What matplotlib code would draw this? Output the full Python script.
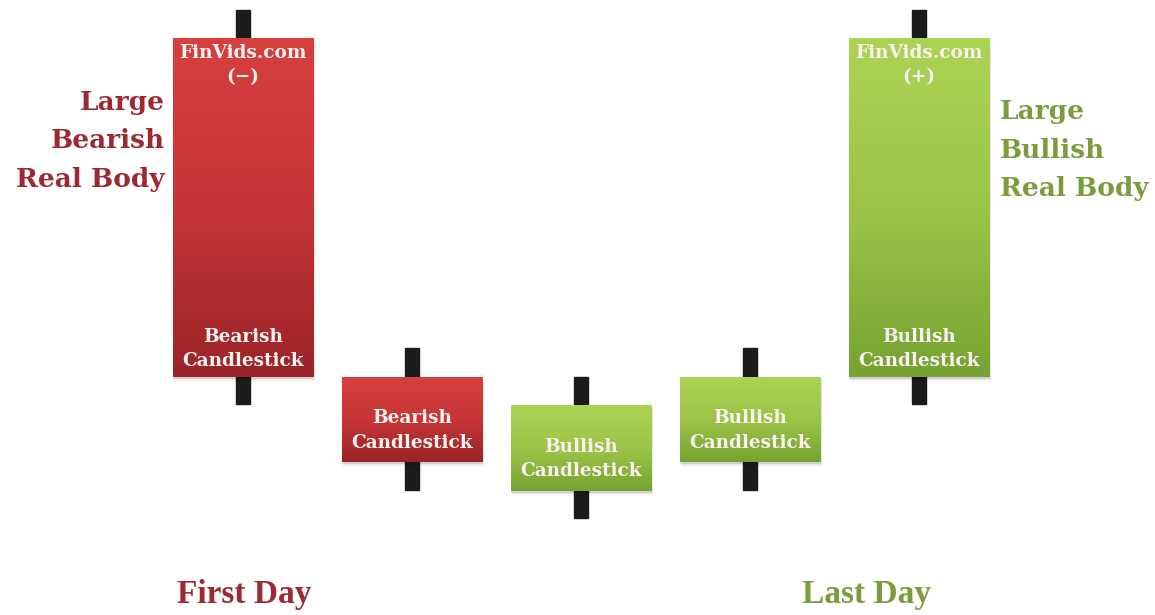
import numpy as np
import matplotlib
matplotlib.use("Agg")
import matplotlib.pyplot as plt
from matplotlib.patches import Rectangle
from matplotlib.colors import LinearSegmentedColormap

# ---- data ----
days = [1, 2, 3, 4, 5]
opens = [577, 238, 124, 153, 238]
closes = [238, 153, 210, 238, 577]
highs = [605, 267, 238, 267, 605]
lows = [211, 125, 97, 125, 211]
body_labels = ["Bearish\nCandlestick", "Bearish\nCandlestick", "Bullish\nCandlestick",
               "Bullish\nCandlestick", "Bullish\nCandlestick"]
top_labels = {1: "FinVids.com\n(\u2212)", 5: "FinVids.com\n(+)"}
side_left = "Large\nBearish\nReal Body"
side_right = "Large\nBullish\nReal Body"
bottom_labels = ["First Day", "Last Day"]

RED_TXT = "#9c2a33"
GREEN_TXT = "#7b9c3c"
red_cmap = LinearSegmentedColormap.from_list("r", ["#d6403f", "#c73536", "#9a2428"])
green_cmap = LinearSegmentedColormap.from_list("g", ["#abd455", "#9cc548", "#76a232"])

fig = plt.figure(figsize=(11.55, 6.15), dpi=100)
ax = fig.add_axes([0, 0, 1, 1])
ax.set_xlim(-0.438, 6.396)
ax.set_ylim(0, 615)
ax.axis("off")

W = 0.834
wick_w = 0.085
font = "DejaVu Serif"

for d, o, c, h, l, lab in zip(days, opens, closes, highs, lows, body_labels):
    top, bot = max(o, c), min(o, c)
    bull = c > o
    # wick
    ax.add_patch(Rectangle((d - wick_w / 2, l), wick_w, h - l, color="#1b1b1b", zorder=1))
    # soft shadow
    for k, a in enumerate([0.10, 0.06, 0.03]):
        off = k + 1
        ax.add_patch(Rectangle((d - W / 2 + 0.003 * off, bot - 1.5 * off), W, top - bot,
                               color="black", alpha=a, lw=0, zorder=2))
    rect = Rectangle((d - W / 2, bot), W, top - bot, facecolor="none", lw=0, zorder=3)
    ax.add_patch(rect)
    grad = np.linspace(0, 1, 256).reshape(-1, 1)
    im = ax.imshow(grad, cmap=green_cmap if bull else red_cmap, aspect="auto",
                   extent=(d - W / 2, d + W / 2, bot, top), origin="upper", zorder=3)
    im.set_clip_path(rect)
    # body label
    if top - bot > 200:
        ty = bot + 28
    else:
        ty = (top + bot) / 2 - 11
    ax.text(d, ty, lab, ha="center", va="center", color="#f7f1ef", fontsize=13.3,
            fontweight="bold", family=font, linespacing=1.5, zorder=4)
    if d in top_labels:
        ax.text(d, top - 27, top_labels[d], ha="center", va="center", color="#f7f1ef",
                fontsize=13.3, fontweight="bold", family=font, linespacing=1.5, zorder=4)

ax.text(days[0] - W / 2 - 0.045, 474, side_left, ha="right", va="center", color=RED_TXT,
        fontsize=19, fontweight="bold", family=font, linespacing=1.68)
ax.text(days[4] + W / 2 + 0.06, 465, side_right, ha="left", va="center", color=GREEN_TXT,
        fontsize=19, fontweight="bold", family=font, linespacing=1.68)
ax.text(days[0] + 0.01, 20, bottom_labels[0], ha="center", va="center", color=RED_TXT,
        fontsize=24, fontweight="bold", family="Liberation Serif")
ax.text(days[4] - 0.31, 20, bottom_labels[1], ha="center", va="center", color=GREEN_TXT,
        fontsize=24, fontweight="bold", family="Liberation Serif")

fig.savefig("out.png", dpi=100, facecolor="white")
